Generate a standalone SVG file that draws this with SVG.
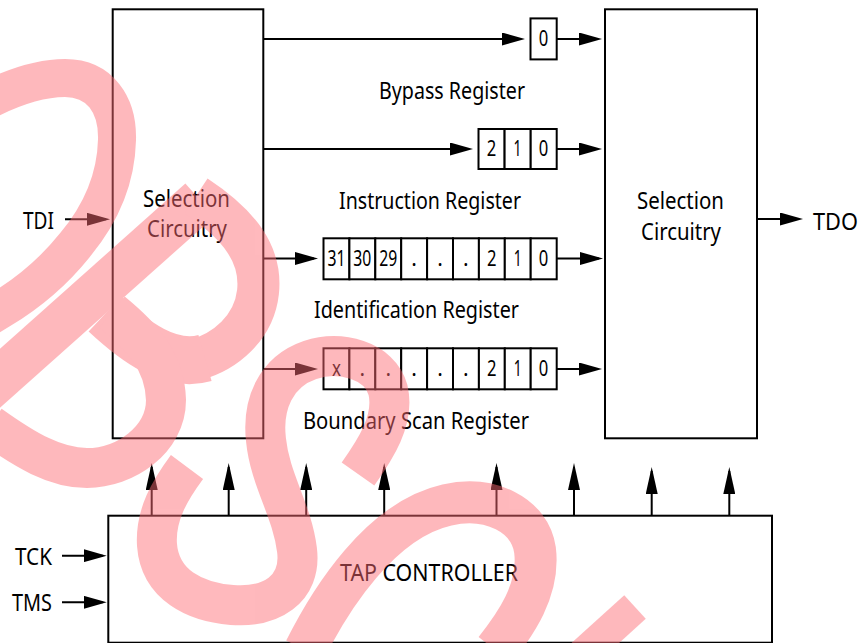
<svg xmlns="http://www.w3.org/2000/svg" width="862" height="643" viewBox="0 0 862 643">
<defs>
<style>
.box{fill:#fff;stroke:#000;stroke-width:2}
.cell{fill:#fff;stroke:#000;stroke-width:2}
.t{font-family:"Noto Sans","Liberation Sans",sans-serif;font-size:24px;fill:#000}
.d{font-family:"Noto Sans","Liberation Sans",sans-serif;font-size:21px;fill:#000;text-anchor:middle}
.w{fill:none;stroke:#000;stroke-width:2}
.h{marker-end:url(#ah)}
.v{marker-end:url(#av)}
.wm{fill:none;stroke:#fe6c75;stroke-linejoin:round;stroke-linecap:butt}
</style>
<marker id="ah" markerUnits="userSpaceOnUse" markerWidth="23" markerHeight="13" refX="19" refY="6.5" orient="auto"><path d="M0,0 L23,6.5 L0,13 Z" fill="#000"/></marker>
<marker id="av" markerUnits="userSpaceOnUse" markerWidth="27" markerHeight="12" refX="23" refY="6" orient="auto"><path d="M0,0 L27,6 L0,12 Z" fill="#000"/></marker>
</defs>
<rect width="862" height="643" fill="#fff"/>

<g id="sel-left">
<rect class="box" x="112.7" y="9.3" width="150.6" height="429"/>
<text class="t" x="143" y="207" textLength="87" lengthAdjust="spacingAndGlyphs">Selection</text>
<text class="t" x="147" y="237" textLength="80" lengthAdjust="spacingAndGlyphs">Circuitry</text>
</g>

<g id="sel-right">
<rect class="box" x="605" y="9.3" width="152" height="429"/>
<text class="t" x="637" y="209" textLength="87" lengthAdjust="spacingAndGlyphs">Selection</text>
<text class="t" x="641" y="240" textLength="80" lengthAdjust="spacingAndGlyphs">Circuitry</text>
</g>

<g id="tap">
<rect class="box" x="108.3" y="515.7" width="663.7" height="127"/>
<text class="t" x="340" y="581" textLength="178" lengthAdjust="spacingAndGlyphs">TAP CONTROLLER</text>
</g>

<g id="bypass">
<rect class="cell" x="530.5" y="18.4" width="26.2" height="41"/>
<text class="d" x="543.6" y="46" textLength="9.5" lengthAdjust="spacingAndGlyphs">0</text>
<text class="t" x="379" y="99" textLength="146" lengthAdjust="spacingAndGlyphs">Bypass Register</text>
</g>

<g id="instruction">
<rect class="cell" x="478.5" y="129" width="26.1" height="40"/>
<rect class="cell" x="504.6" y="129" width="26.1" height="40"/>
<rect class="cell" x="530.7" y="129" width="26" height="40"/>
<text class="d" x="491.5" y="156" textLength="9.5" lengthAdjust="spacingAndGlyphs">2</text>
<text class="d" x="517.6" y="156" textLength="8" lengthAdjust="spacingAndGlyphs">1</text>
<text class="d" x="543.6" y="156" textLength="9.5" lengthAdjust="spacingAndGlyphs">0</text>
<text class="t" x="339" y="209" textLength="182" lengthAdjust="spacingAndGlyphs">Instruction Register</text>
</g>

<g id="identification">
<rect class="cell" x="323.5" y="238.3" width="25.9" height="41"/>
<rect class="cell" x="349.4" y="238.3" width="25.9" height="41"/>
<rect class="cell" x="375.3" y="238.3" width="25.9" height="41"/>
<rect class="cell" x="401.2" y="238.3" width="25.9" height="41"/>
<rect class="cell" x="427.1" y="238.3" width="25.9" height="41"/>
<rect class="cell" x="453" y="238.3" width="25.9" height="41"/>
<rect class="cell" x="478.9" y="238.3" width="25.9" height="41"/>
<rect class="cell" x="504.8" y="238.3" width="25.9" height="41"/>
<rect class="cell" x="530.7" y="238.3" width="26" height="41"/>
<text class="d" x="336.4" y="265.8" textLength="18" lengthAdjust="spacingAndGlyphs">31</text>
<text class="d" x="362.3" y="265.8" textLength="18" lengthAdjust="spacingAndGlyphs">30</text>
<text class="d" x="388.2" y="265.8" textLength="18" lengthAdjust="spacingAndGlyphs">29</text>
<text class="d" x="414.1" y="265.8">.</text>
<text class="d" x="440" y="265.8">.</text>
<text class="d" x="465.9" y="265.8">.</text>
<text class="d" x="491.8" y="265.8" textLength="9.5" lengthAdjust="spacingAndGlyphs">2</text>
<text class="d" x="517.7" y="265.8" textLength="8" lengthAdjust="spacingAndGlyphs">1</text>
<text class="d" x="543.6" y="265.8" textLength="9.5" lengthAdjust="spacingAndGlyphs">0</text>
<text class="t" x="314" y="318" textLength="205" lengthAdjust="spacingAndGlyphs">Identification Register</text>
</g>

<g id="boundary-scan">
<rect class="cell" x="323.5" y="348.3" width="25.9" height="41"/>
<rect class="cell" x="349.4" y="348.3" width="25.9" height="41"/>
<rect class="cell" x="375.3" y="348.3" width="25.9" height="41"/>
<rect class="cell" x="401.2" y="348.3" width="25.9" height="41"/>
<rect class="cell" x="427.1" y="348.3" width="25.9" height="41"/>
<rect class="cell" x="453" y="348.3" width="25.9" height="41"/>
<rect class="cell" x="478.9" y="348.3" width="25.9" height="41"/>
<rect class="cell" x="504.8" y="348.3" width="25.9" height="41"/>
<rect class="cell" x="530.7" y="348.3" width="26" height="41"/>
<text class="d" x="336.4" y="375.8" textLength="9" lengthAdjust="spacingAndGlyphs">x</text>
<text class="d" x="362.3" y="375.8">.</text>
<text class="d" x="388.2" y="375.8">.</text>
<text class="d" x="414.1" y="375.8">.</text>
<text class="d" x="440" y="375.8">.</text>
<text class="d" x="465.9" y="375.8">.</text>
<text class="d" x="491.8" y="375.8" textLength="9.5" lengthAdjust="spacingAndGlyphs">2</text>
<text class="d" x="517.7" y="375.8" textLength="8" lengthAdjust="spacingAndGlyphs">1</text>
<text class="d" x="543.6" y="375.8" textLength="9.5" lengthAdjust="spacingAndGlyphs">0</text>
<text class="t" x="303" y="429" textLength="226" lengthAdjust="spacingAndGlyphs">Boundary Scan Register</text>
</g>

<g id="pins">
<text class="t" x="23" y="229" textLength="31" lengthAdjust="spacingAndGlyphs">TDI</text>
<text class="t" x="813" y="229.5" textLength="45" lengthAdjust="spacingAndGlyphs">TDO</text>
<text class="t" x="15" y="565" textLength="37" lengthAdjust="spacingAndGlyphs">TCK</text>
<text class="t" x="12" y="611" textLength="40" lengthAdjust="spacingAndGlyphs">TMS</text>
</g>

<g id="connectors">
<line class="w h" x1="65" y1="219.3" x2="106" y2="219.3"/>
<line class="w h" x1="263.3" y1="39" x2="521" y2="39"/>
<line class="w h" x1="556.7" y1="39" x2="598" y2="39"/>
<line class="w h" x1="263.3" y1="149" x2="469" y2="149"/>
<line class="w h" x1="556.7" y1="149" x2="598" y2="149"/>
<line class="w h" x1="263.3" y1="258.5" x2="314" y2="258.5"/>
<line class="w h" x1="556.7" y1="258.5" x2="599" y2="258.5"/>
<line class="w h" x1="263.3" y1="369" x2="314" y2="369"/>
<line class="w h" x1="556.7" y1="369" x2="598" y2="369"/>
<line class="w h" x1="757" y1="219" x2="799" y2="219"/>
<line class="w h" x1="62" y1="555.7" x2="102.7" y2="555.7"/>
<line class="w h" x1="62" y1="602.3" x2="102.7" y2="602.3"/>
<line class="w v" x1="151.7" y1="515.7" x2="151.7" y2="467"/>
<line class="w v" x1="228.7" y1="515.7" x2="228.7" y2="467"/>
<line class="w v" x1="306.2" y1="515.7" x2="306.2" y2="467"/>
<line class="w v" x1="384.2" y1="515.7" x2="384.2" y2="467"/>
<line class="w v" x1="496.5" y1="515.7" x2="496.5" y2="467"/>
<line class="w v" x1="574" y1="515.7" x2="574" y2="467"/>
<line class="w v" x1="651.7" y1="515.7" x2="651.7" y2="471"/>
<line class="w v" x1="729.3" y1="515.7" x2="729.3" y2="471"/>
</g>

<g id="watermark" opacity="0.48">
<path class="wm" stroke-width="38" d="M -20,104 C 10,88 40,78 65,78 C 100,78 118,105 117,140 C 116,180 100,215 75,245 C 55,270 30,292 0,310 L -20,322"/>
<path class="wm" stroke-width="44" d="M -20,396 L 200,200"/>
<path class="wm" stroke-width="42" d="M 196,196 C 240,225 262,255 258,292 C 254,328 225,352 195,360"/>
<path class="wm" stroke-width="48" d="M 205,358 C 170,368 135,342 105,314"/>
<path class="wm" stroke-width="40" d="M 112,312 C 140,335 165,360 166,400 C 166,440 125,468 87,468 C 55,468 25,450 -10,425"/>
<path class="wm" stroke-width="40" d="M 358,474 C 375,450 395,420 388,390 C 380,360 340,350 310,360 C 275,372 262,405 266,440 C 270,480 292,510 297,550 C 302,590 270,608 232,605 C 195,602 160,585 157,545 C 155,515 170,490 187,467"/>
<path class="wm" stroke-width="42" d="M 305,650 C 330,600 380,520 447,505 C 490,495 530,515 535,550 C 540,590 515,625 495,650"/>
<path class="wm" stroke-width="32" d="M 635,607 L 560,675"/>
</g>
</svg>
